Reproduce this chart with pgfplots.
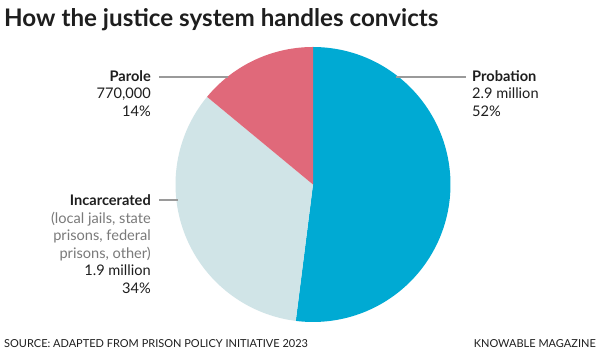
\documentclass[border=0pt]{standalone}
\usepackage{pgfplots}
\pgfplotsset{compat=1.18}
\usepackage{fontspec}
\setmainfont{Lato}
\definecolor{cProb}{HTML}{00AAD3}
\definecolor{cInc}{HTML}{D0E4E7}
\definecolor{cPar}{HTML}{E0697A}
\definecolor{cLead}{HTML}{9A9A9A}
\definecolor{cGrayTxt}{HTML}{7A7A7A}
\definecolor{cTxt}{HTML}{1E1E1E}
\begin{document}
\begin{tikzpicture}[x=1pt,y=1pt]
\useasboundingbox (0,0) rectangle (600,358);
\fill[white] (0,0) rectangle (600,358);
% shares (percent)
\pgfmathsetmacro{\pProb}{52}
\pgfmathsetmacro{\pInc}{34}
\pgfmathsetmacro{\pPar}{14}
\pgfmathsetmacro{\aA}{90}
\pgfmathsetmacro{\aB}{90-3.6*\pProb}
\pgfmathsetmacro{\aC}{\aB-3.6*\pInc}
\pgfmathsetmacro{\aD}{\aC-3.6*\pPar}
\begin{axis}[at={(0,0)},anchor=origin,
  width=600pt,height=358pt,scale only axis,
  xmin=0,xmax=600,ymin=0,ymax=358,
  hide axis,clip=false]
\addplot[fill=cProb,draw=none,domain=\aA:\aB,samples=120]
  ({313+137.5*cos(x)},{173.5+137.5*sin(x)}) -- (axis cs:313,173.5) -- cycle;
\addplot[fill=cInc,draw=none,domain=\aB:\aC,samples=100]
  ({313+137.5*cos(x)},{173.5+137.5*sin(x)}) -- (axis cs:313,173.5) -- cycle;
\addplot[fill=cPar,draw=none,domain=\aC:\aD,samples=60]
  ({313+137.5*cos(x)},{173.5+137.5*sin(x)}) -- (axis cs:313,173.5) -- cycle;
\end{axis}
% leader lines
\draw[cLead,line width=1.1pt] (396,281) -- (466,281);
\draw[cLead,line width=1.1pt] (159,281) -- (228,281);
\draw[cLead,line width=1.1pt] (159,158) -- (178,158);
% title
\node[anchor=base west,inner sep=0,text=cTxt,font=\fontsize{24.2}{28}\selectfont\bfseries] at (4,331) {How the justice system handles convicts};
% Probation
\node[anchor=base west,inner sep=0,text=cTxt,font=\fontsize{14.6}{17.5}\selectfont\bfseries] at (472,276) {Probation};
\node[anchor=base west,inner sep=0,text=cTxt,font=\fontsize{14.6}{17.5}\selectfont] at (472,259) {2.9 million};
\node[anchor=base west,inner sep=0,text=cTxt,font=\fontsize{14.6}{17.5}\selectfont] at (472,241.5) {52\%};
% Parole
\node[anchor=base east,inner sep=0,text=cTxt,font=\fontsize{14.6}{17.5}\selectfont\bfseries] at (151,276) {Parole};
\node[anchor=base east,inner sep=0,text=cTxt,font=\fontsize{14.6}{17.5}\selectfont] at (151,259) {770,000};
\node[anchor=base east,inner sep=0,text=cTxt,font=\fontsize{14.6}{17.5}\selectfont] at (151,241.5) {14\%};
% Incarcerated
\node[anchor=base east,inner sep=0,text=cTxt,font=\fontsize{14.6}{17.5}\selectfont\bfseries] at (151,152) {Incarcerated};
\node[anchor=base east,inner sep=0,text=cGrayTxt,font=\fontsize{14.6}{17.5}\selectfont] at (151,134.5) {(local jails, state};
\node[anchor=base east,inner sep=0,text=cGrayTxt,font=\fontsize{14.6}{17.5}\selectfont] at (151,117) {prisons, federal};
\node[anchor=base east,inner sep=0,text=cGrayTxt,font=\fontsize{14.6}{17.5}\selectfont] at (151,99.5) {prisons, other)};
\node[anchor=base east,inner sep=0,text=cTxt,font=\fontsize{14.6}{17.5}\selectfont] at (151,82) {1.9 million};
\node[anchor=base east,inner sep=0,text=cTxt,font=\fontsize{14.6}{17.5}\selectfont] at (151,64.5) {34\%};
% footer
\node[anchor=base west,inner sep=0,text=cTxt,font=\fontsize{11}{13}\selectfont] at (4,10) {SOURCE: ADAPTED FROM PRISON POLICY INITIATIVE 2023};
\node[anchor=base east,inner sep=0,text=cTxt,font=\fontsize{11}{13}\selectfont] at (596,10) {KNOWABLE MAGAZINE};
\end{tikzpicture}
\end{document}
